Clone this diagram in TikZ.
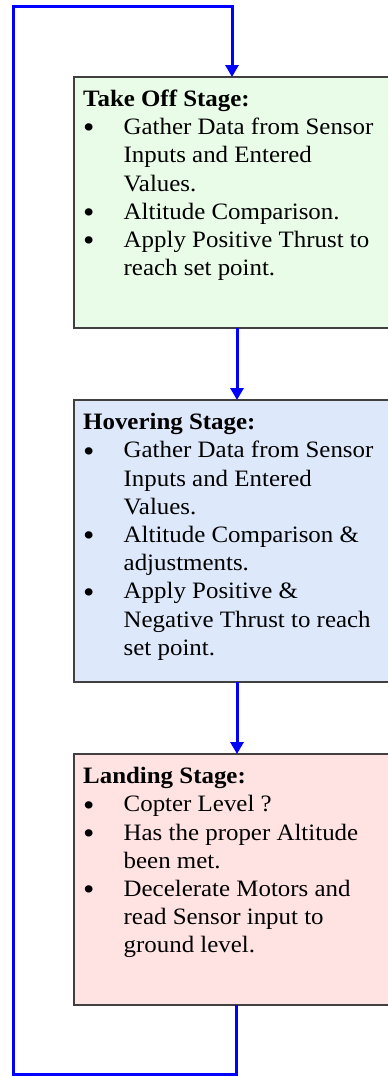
\documentclass[tikz,border=0pt]{standalone}
\usepackage{fontspec}
\setmainfont[FakeStretch=1.06]{Liberation Serif}
\usepackage{tikz}
\usetikzlibrary{calc,arrows.meta}

\definecolor{takeoffgreen}{RGB}{232,252,232}
\definecolor{hoverblue}{RGB}{221,232,251}
\definecolor{landingpink}{RGB}{255,226,226}
\definecolor{flowblue}{RGB}{0,0,255}

\tikzset{
    stagebox/.style = {draw=black!75, line width=1.5pt, anchor=north west, minimum width=330pt, inner sep=0pt, outer sep=0pt},
    stagetext/.style = {anchor=north west, align=left, inner sep=0pt, font=\fontsize{23.5}{28.2}\selectfont},
    flowline/.style = {draw=flowblue, line width=3pt},
    flowarrow/.style = {flowline, -{Triangle[length=12pt,width=13pt]}}
}
\newcommand{\stagehead}[1]{\rule{0pt}{20pt}\textbf{#1}}
\newcommand{\stagedot}{\makebox[40.5pt][l]{\raisebox{-3.2pt}{\scalebox{1.3}{\textbullet}}}}
\newcommand{\stagegap}{\hspace*{40.5pt}}

\begin{document}
\begin{tikzpicture}[x=1pt,y=-1pt]
            \clip (0,0) rectangle (388,1076);
            \useasboundingbox (0,0) rectangle (388,1076);

            \node[stagebox, fill=takeoffgreen, minimum height=251pt] (takeoff) at (74,77) {};
            \node[stagebox, fill=hoverblue, minimum height=282pt] (hover) at (74,400) {};
            \node[stagebox, fill=landingpink, minimum height=251pt] (landing) at (74,754) {};

            \node[stagetext] (takeofftext) at ($(takeoff.north west)+(9,9.2)$) {\stagehead{Take Off Stage:}\\
                \stagedot Gather Data from Sensor\\ \stagegap Inputs and Entered\\ \stagegap Values.\\
                \stagedot Altitude Comparison.\\
                \stagedot Apply Positive Thrust to\\ \stagegap reach set point.};
            \node[stagetext] (hovertext) at ($(hover.north west)+(9,9.5)$) {\stagehead{Hovering Stage:}\\
                \stagedot Gather Data from Sensor\\ \stagegap Inputs and Entered\\ \stagegap Values.\\
                \stagedot Altitude Comparison \&\\ \stagegap adjustments.\\
                \stagedot Apply Positive \&\\ \stagegap Negative Thrust to reach\\ \stagegap set point.};
            \node[stagetext] (landingtext) at ($(landing.north west)+(9,9.5)$) {\stagehead{Landing Stage:}\\
                \stagedot Copter Level ?\\
                \stagedot Has the proper Altitude\\ \stagegap been met.\\
                \stagedot Decelerate Motors and\\ \stagegap read Sensor input to\\ \stagegap ground level.};

            \coordinate (midaxis) at (237,0);
            \coordinate (backaxis) at (236,0);
            \coordinate (loopbottom) at (236,1074);
            \coordinate (loopleft) at (13,1074);
            \coordinate (looptop) at (13,6);
            \coordinate (loopright) at (232,6);

            \draw[flowarrow] (takeoff.south -| midaxis) -- (hover.north -| midaxis);
            \draw[flowarrow] (hover.south -| midaxis) -- (landing.north -| midaxis);
            \draw[flowarrow] (landing.south -| backaxis) -- (loopbottom) -- (loopleft) -- (looptop) -- (loopright) -- (takeoff.north -| loopright);
\end{tikzpicture}
\end{document}
